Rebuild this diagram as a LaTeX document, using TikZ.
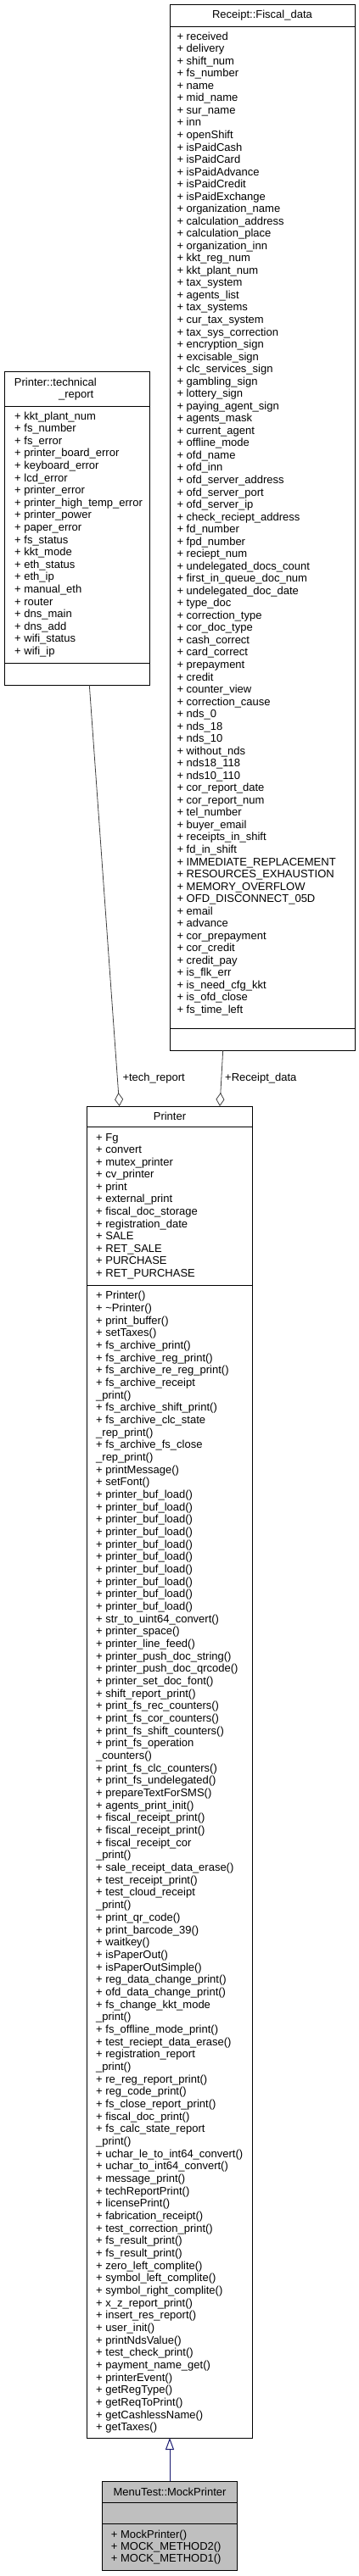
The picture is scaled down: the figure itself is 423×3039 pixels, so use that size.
\documentclass[tikz,border=0pt]{standalone}
\usepackage{fontspec}
\setmainfont{Liberation Sans}
\usetikzlibrary{arrows.meta,calc}
\definecolor{aggc}{HTML}{404040}
\definecolor{inhc}{HTML}{191970}
\definecolor{mockfill}{HTML}{BFBFBF}
\tikzset{
  classbox/.style={draw=black, line width=1pt, anchor=north west, inner sep=0pt, outer sep=0pt},
  rowtxt/.style={anchor=base west, inner sep=0pt, font=\fontsize{13}{15}\selectfont},
  titletxt/.style={anchor=center, inner sep=0pt, font=\fontsize{13}{15}\selectfont},
  sepline/.style={draw=black, line width=1pt},
  aggline/.style={draw=aggc, line width=0.8pt, {Diamond[open,length=16pt,width=10pt,line width=0.8pt]}-},
  inhline/.style={draw=inhc, line width=1pt, -{Triangle[open,length=14pt,width=10pt,line width=1pt]}},
  rolelbl/.style={anchor=west, inner sep=0pt, font=\fontsize{13}{15}\selectfont}
}
\newcommand{\rowlist}[5]{%
  \foreach \t [count=\i from 0] in {#5} {\node[rowtxt] (#1\i) at (#2, #3+\i*#4) {\t};}%
}
\begin{document}
\begin{tikzpicture}[x=1pt,y=-1pt]
\useasboundingbox (0,0) rectangle (423,3039);

% ---------- Receipt::Fiscal_data ----------
\node[classbox, minimum width=218pt, minimum height=1234pt] (fd) at (200,5) {};
\draw[sepline] (fd.west |- 0,31.7) -- (fd.east |- 0,31.7);
\draw[sepline] (fd.west |- 0,1213) -- (fd.east |- 0,1213);
\node[titletxt] (fdtitle) at (309,18) {Receipt::Fiscal\_data};
\rowlist{fda}{208.3}{47.2}{14.535}{+ received,+ delivery,+ shift\_num,+ fs\_number,+ name,+ mid\_name,+ sur\_name,+ inn,+ openShift,+ isPaidCash,+ isPaidCard,+ isPaidAdvance,+ isPaidCredit,+ isPaidExchange,+ organization\_name,+ calculation\_address,+ calculation\_place,+ organization\_inn,+ kkt\_reg\_num,+ kkt\_plant\_num,+ tax\_system,+ agents\_list,+ tax\_systems,+ cur\_tax\_system,+ tax\_sys\_correction,+ encryption\_sign,+ excisable\_sign,+ clc\_services\_sign,+ gambling\_sign,+ lottery\_sign,+ paying\_agent\_sign,+ agents\_mask,+ current\_agent,+ offline\_mode,+ ofd\_name,+ ofd\_inn,+ ofd\_server\_address,+ ofd\_server\_port,+ ofd\_server\_ip,+ check\_reciept\_address,+ fd\_number,+ fpd\_number,+ reciept\_num,+ undelegated\_docs\_count,+ first\_in\_queue\_doc\_num,+ undelegated\_doc\_date,+ type\_doc,+ correction\_type,+ cor\_doc\_type,+ cash\_correct,+ card\_correct,+ prepayment,+ credit,+ counter\_view,+ correction\_cause,+ nds\_0,+ nds\_18,+ nds\_10,+ without\_nds,+ nds18\_118,+ nds10\_110,+ cor\_report\_date,+ cor\_report\_num,+ tel\_number,+ buyer\_email,+ receipts\_in\_shift,+ fd\_in\_shift,+ IMMEDIATE\_REPLACEMENT,+ RESOURCES\_EXHAUSTION,+ MEMORY\_OVERFLOW,+ OFD\_DISCONNECT\_05D,+ email,+ advance,+ cor\_prepayment,+ cor\_credit,+ credit\_pay,+ is\_flk\_err,+ is\_need\_cfg\_kkt,+ is\_ofd\_close,+ fs\_time\_left}

% ---------- Printer::technical_report ----------
\node[classbox, minimum width=171pt, minimum height=370pt] (tr) at (5,438) {};
\draw[sepline] (tr.west |- 0,479) -- (tr.east |- 0,479);
\draw[sepline] (tr.west |- 0,782) -- (tr.east |- 0,782);
\node[rowtxt] (trtitleA) at (16.7,455.2) {Printer::technical};
\node[rowtxt, anchor=base east] (trtitleB) at (110.5,469) {\_report};
\rowlist{tra}{17}{495}{14.61}{+ kkt\_plant\_num,+ fs\_number,+ fs\_error,+ printer\_board\_error,+ keyboard\_error,+ lcd\_error,+ printer\_error,+ printer\_high\_temp\_error,+ printer\_power,+ paper\_error,+ fs\_status,+ kkt\_mode,+ eth\_status,+ eth\_ip,+ manual\_eth,+ router,+ dns\_main,+ dns\_add,+ wifi\_status,+ wifi\_ip}

% ---------- Printer ----------
\node[classbox, minimum width=194.6pt, minimum height=1571pt] (pr) at (102.7,1305) {};
\draw[sepline] (pr.west |- 0,1329.5) -- (pr.east |- 0,1329.5);
\draw[sepline] (pr.west |- 0,1516) -- (pr.east |- 0,1516);
\node[titletxt] (prtitle) at (200,1317) {Printer};
\rowlist{pra}{113}{1346.2}{14.55}{+ Fg,+ convert,+ mutex\_printer,+ cv\_printer,+ print,+ external\_print,+ fiscal\_doc\_storage,+ registration\_date,+ SALE,+ RET\_SALE,+ PURCHASE,+ RET\_PURCHASE}
\rowlist{prm}{113}{1532.8}{14.67}{+ Printer(),+ \textasciitilde Printer(),+ print\_buffer(),+ setTaxes(),+ fs\_archive\_print(),+ fs\_archive\_reg\_print(),+ fs\_archive\_re\_reg\_print(),+ fs\_archive\_receipt,\_print(),+ fs\_archive\_shift\_print(),+ fs\_archive\_clc\_state,\_rep\_print(),+ fs\_archive\_fs\_close,\_rep\_print(),+ printMessage(),+ setFont(),+ printer\_buf\_load(),+ printer\_buf\_load(),+ printer\_buf\_load(),+ printer\_buf\_load(),+ printer\_buf\_load(),+ printer\_buf\_load(),+ printer\_buf\_load(),+ printer\_buf\_load(),+ printer\_buf\_load(),+ printer\_buf\_load(),+ str\_to\_uint64\_convert(),+ printer\_space(),+ printer\_line\_feed(),+ printer\_push\_doc\_string(),+ printer\_push\_doc\_qrcode(),+ printer\_set\_doc\_font(),+ shift\_report\_print(),+ print\_fs\_rec\_counters(),+ print\_fs\_cor\_counters(),+ print\_fs\_shift\_counters(),+ print\_fs\_operation,\_counters(),+ print\_fs\_clc\_counters(),+ print\_fs\_undelegated(),+ prepareTextForSMS(),+ agents\_print\_init(),+ fiscal\_receipt\_print(),+ fiscal\_receipt\_print(),+ fiscal\_receipt\_cor,\_print(),+ sale\_receipt\_data\_erase(),+ test\_receipt\_print(),+ test\_cloud\_receipt,\_print(),+ print\_qr\_code(),+ print\_barcode\_39(),+ waitkey(),+ isPaperOut(),+ isPaperOutSimple(),+ reg\_data\_change\_print(),+ ofd\_data\_change\_print(),+ fs\_change\_kkt\_mode,\_print(),+ fs\_offline\_mode\_print(),+ test\_reciept\_data\_erase(),+ registration\_report,\_print(),+ re\_reg\_report\_print(),+ reg\_code\_print(),+ fs\_close\_report\_print(),+ fiscal\_doc\_print(),+ fs\_calc\_state\_report,\_print(),+ uchar\_le\_to\_int64\_convert(),+ uchar\_to\_int64\_convert(),+ message\_print(),+ techReportPrint(),+ licensePrint(),+ fabrication\_receipt(),+ test\_correction\_print(),+ fs\_result\_print(),+ fs\_result\_print(),+ zero\_left\_complite(),+ symbol\_left\_complite(),+ symbol\_right\_complite(),+ x\_z\_report\_print(),+ insert\_res\_report(),+ user\_init(),+ printNdsValue(),+ test\_check\_print(),+ payment\_name\_get(),+ printerEvent(),+ getRegType(),+ getReqToPrint(),+ getCashlessName(),+ getTaxes()}

% ---------- MenuTest::MockPrinter ----------
\node[classbox, fill=mockfill, minimum width=158.6pt, minimum height=105pt] (mk) at (120.7,2927.3) {};
\draw[sepline] (mk.west |- 0,2952.3) -- (mk.east |- 0,2952.3);
\draw[sepline] (mk.west |- 0,2977.7) -- (mk.east |- 0,2977.7);
\node[titletxt] (mktitle) at (200,2939.5) {MenuTest::MockPrinter};
\rowlist{mkm}{130.7}{2994.5}{14.15}{+ MockPrinter(),+ MOCK\_METHOD2(),+ MOCK\_METHOD1()}

% ---------- connectors ----------
\draw[aggline] ($(pr.north west)+(38,0)$) -- ($(tr.south west)+(100.3,0)$);
\draw[aggline] ($(pr.north west)+(156.3,0)$) -- ($(fd.south west)+(62.7,0)$);
\node[rolelbl] (lbltech) at (144.3,1271.7) {+tech\_report};
\node[rolelbl] (lblrec) at (265,1271.7) {+Receipt\_data};
\draw[inhline] (mk.north) -- (pr.south);
\end{tikzpicture}
\end{document}
